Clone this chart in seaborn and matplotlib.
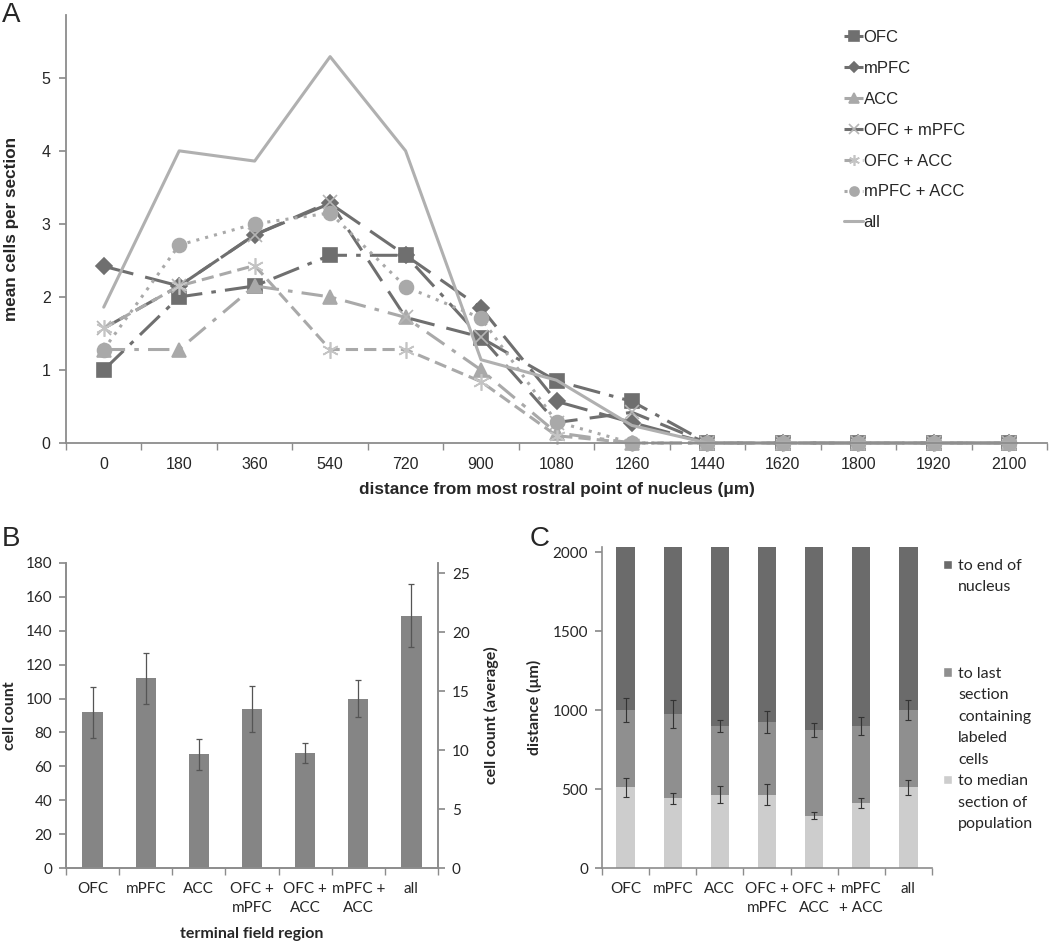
import numpy as np
import seaborn as sns
import matplotlib.pyplot as plt
from matplotlib.patches import Patch


sns.set_theme(style="ticks")
plt.rcParams["font.family"] = ["Liberation Sans", "DejaVu Sans"]

# -------------------------------
# Data - panel A
# -------------------------------
distance = ["0", "180", "360", "540", "720", "900", "1080", "1260",
            "1440", "1620", "1800", "1920", "2100"]

ofc = [1.0, 2.0, 2.15, 2.57, 2.57, 1.44, 0.85, 0.57, 0, 0, 0, 0, 0]
mpfc = [2.42, 2.15, 2.85, 3.28, 2.57, 1.85, 0.57, 0.28, 0, 0, 0, 0, 0]
acc = [1.28, 1.28, 2.15, 2.0, 1.72, 1.0, 0.14, 0, 0, 0, 0, 0, 0]
ofc_mpfc = [1.57, 2.15, 2.85, 3.3, 1.72, 1.45, 0.28, 0.42, 0, 0, 0, 0, 0]
ofc_acc = [1.57, 2.15, 2.43, 1.28, 1.28, 0.84, 0.1, 0, 0, 0, 0, 0, 0]
mpfc_acc = [1.28, 2.71, 3.0, 3.15, 2.14, 1.71, 0.29, 0, 0, 0, 0, 0, 0]
all_cells = [1.86, 4.0, 3.86, 5.29, 4.0, 1.14, 0.86, 0.24, 0, 0, 0, 0, 0]

# -------------------------------
# Data - panel B
# -------------------------------
regions = ["OFC", "mPFC", "ACC", "OFC +\nmPFC", "OFC +\nACC", "mPFC +\nACC", "all"]
regions_c = ["OFC", "mPFC", "ACC", "OFC +\nmPFC", "OFC +\nACC", "mPFC\n+ ACC", "all"]
cell_count = [92, 112, 67, 94, 68, 100, 149]
cell_err = [15, 15, 9, 13.5, 6, 11, 18.5]

# -------------------------------
# Data - panel C
# -------------------------------
end_of_nucleus = [2030, 2030, 2030, 2030, 2030, 2030, 2030]
last_section = [1000, 975, 900, 925, 875, 900, 1000]
last_err = [75, 90, 38, 72, 45, 55, 65]
median_section = [510, 440, 465, 465, 330, 410, 510]
median_err = [60, 35, 55, 68, 22, 32, 45]

dark = "#6f6f6f"
light = "#a9a9a9"
spine_col = "#8c8c8c"
calibri = ["Lato", "DejaVu Sans"]

fig = plt.figure(figsize=(10.5, 9.46), dpi=100)
W, H = 1050, 946


def box(l, t, r, b):
    return [l / W, 1 - b / H, (r - l) / W, (b - t) / H]


# -------------------------------
# Panel A - line plot
# -------------------------------
axA = fig.add_axes(box(66, 15, 1047, 443))
xpos = np.arange(len(distance))

lines = [
    ("OFC", ofc, dark, "s", 10, (0, (9, 3, 1.5, 3)), dark),
    ("mPFC", mpfc, dark, "D", 8, (0, (10, 4)), dark),
    ("ACC", acc, light, "^", 10, (0, (7, 3, 1.5, 3)), light),
    ("OFC + mPFC", ofc_mpfc, dark, "x", 10, (0, (8, 4)), "#b5b5b5"),
    ("OFC + ACC", ofc_acc, light, (6, 2, 0), 12, (0, (4, 2)), "#c4c4c4"),
    ("mPFC + ACC", mpfc_acc, light, "o", 10, (0, (1, 2)), light),
    ("all", all_cells, "#b0b0b0", None, 0, "-", "#b0b0b0"),
]

for name, vals, col, mk, ms, ls, mcol in lines:
    sns.lineplot(x=xpos, y=vals, ax=axA, color=col, linewidth=2.2,
                 linestyle=ls, marker=mk, markersize=ms,
                 markerfacecolor=mcol, markeredgecolor=mcol,
                 markeredgewidth=1.2, label=name, clip_on=False)

axA.set_xlim(-0.5, 12.5)
axA.set_ylim(0, 5.86)
axA.set_yticks(range(6))
axA.set_xticks(xpos)
axA.set_xticklabels(distance)
axA.set_xticks(np.arange(-0.5, 13), minor=True)
axA.tick_params(axis="x", which="major", length=0, labelsize=11.5, pad=10)
axA.tick_params(axis="x", which="minor", length=5, color=spine_col)
axA.tick_params(axis="y", length=5, color=spine_col, labelsize=11.5, pad=6)
axA.set_xlabel("distance from most rostral point of nucleus (\u03bcm)",
               fontsize=12.3, fontweight="bold", labelpad=7)
axA.set_ylabel("mean cells per section", fontsize=12.3, fontweight="bold", labelpad=16)
sns.despine(ax=axA)
for s in ["left", "bottom"]:
    axA.spines[s].set_color(spine_col)
    axA.spines[s].set_linewidth(1.3)

axA.legend(loc="upper left", bbox_to_anchor=(836 / W, 1 - 22 / H),
           bbox_transform=fig.transFigure, frameon=False, fontsize=12,
           handlelength=1.1, handletextpad=0.05, labelspacing=0.95,
           markerscale=0.65, borderpad=0)

# -------------------------------
# Panel B - bar plot
# -------------------------------
axB = fig.add_axes(box(66, 563, 438, 868))
sns.barplot(x=regions, y=cell_count, color="#858585", saturation=1,
            width=0.38, errorbar=None, linewidth=0, ax=axB)
axB.errorbar(np.arange(len(regions)), cell_count, yerr=cell_err, fmt="none",
             ecolor="#555555", elinewidth=0.9, capsize=2, capthick=0.9)
axB.set_xlim(-0.5, 6.5)
axB.set_ylim(0, 180)
axB.set_yticks(range(0, 181, 20))
axB.set_xticks(range(len(regions)))
axB.set_xticklabels(regions, family=calibri, linespacing=1.45)
axB.set_xticks(np.arange(-0.5, 7), minor=True)
axB.tick_params(axis="x", which="major", length=0, labelsize=11, pad=10)
axB.tick_params(axis="x", which="minor", length=5, color=spine_col)
axB.tick_params(axis="y", length=5, color=spine_col, labelsize=11, pad=5)
for lab in axB.get_yticklabels():
    lab.set_family(calibri)
axB.set_xlabel("terminal field region", fontsize=11.5, fontweight="bold",
               family=calibri, labelpad=9)
axB.set_ylabel("cell count", fontsize=11.5, fontweight="bold",
               family=calibri, labelpad=6)

axB2 = axB.twinx()
axB2.set_ylim(0, 25.85)
axB2.set_yticks(range(0, 26, 5))
axB2.tick_params(axis="y", length=5, color=spine_col, labelsize=11, pad=5)
for lab in axB2.get_yticklabels():
    lab.set_family(calibri)
axB2.set_ylabel("cell count (average)", fontsize=11.5, fontweight="bold",
                family=calibri, labelpad=10)
for ax in [axB, axB2]:
    ax.spines["top"].set_visible(False)
    for s in ["left", "bottom", "right"]:
        ax.spines[s].set_color(spine_col)
        ax.spines[s].set_linewidth(1.2)

# -------------------------------
# Panel C - stacked bars
# -------------------------------
axC = fig.add_axes(box(602, 547, 932, 868))
c_end, c_last, c_med = "#6b6b6b", "#8f8f8f", "#cdcdcd"
sns.barplot(x=regions_c, y=end_of_nucleus, color=c_end, saturation=1,
            width=0.39, errorbar=None, linewidth=0, ax=axC)
sns.barplot(x=regions_c, y=last_section, color=c_last, saturation=1,
            width=0.39, errorbar=None, linewidth=0, ax=axC)
sns.barplot(x=regions_c, y=median_section, color=c_med, saturation=1,
            width=0.39, errorbar=None, linewidth=0, ax=axC)
axC.errorbar(np.arange(7), last_section, yerr=last_err, fmt="none",
             ecolor="#333333", elinewidth=0.8, capsize=2, capthick=0.8)
axC.errorbar(np.arange(7), median_section, yerr=median_err, fmt="none",
             ecolor="#333333", elinewidth=0.8, capsize=2, capthick=0.8)
axC.set_xlim(-0.5, 6.5)
axC.set_ylim(0, 2032)
axC.set_yticks([0, 500, 1000, 1500, 2000])
axC.set_xticks(range(len(regions_c)))
axC.set_xticklabels(regions_c, family=calibri, linespacing=1.45)
axC.set_xticks(np.arange(-0.5, 7), minor=True)
axC.tick_params(axis="x", which="major", length=0, labelsize=11, pad=10)
axC.tick_params(axis="x", which="minor", length=5, color=spine_col)
axC.tick_params(axis="y", length=5, color=spine_col, labelsize=11, pad=5)
for lab in axC.get_yticklabels():
    lab.set_family(calibri)
axC.set_ylabel("distance (\u03bcm)", fontsize=11.5, fontweight="bold",
               family=calibri, labelpad=8)
sns.despine(ax=axC)
for s in ["left", "bottom"]:
    axC.spines[s].set_color(spine_col)
    axC.spines[s].set_linewidth(1.2)

# legend rows: swatch only on the first line of each entry
blank = Patch(facecolor="none", edgecolor="none")
leg_rows = [
    (Patch(facecolor=c_end), "to end of"), (blank, "nucleus"),
    (blank, ""), (blank, ""), (blank, ""),
    (Patch(facecolor=c_last), "to last"), (blank, "section"),
    (blank, "containing"), (blank, "labeled"), (blank, "cells"),
    (Patch(facecolor=c_med), "to median"), (blank, "section of"),
    (blank, "population"),
]
legC = axC.legend([r[0] for r in leg_rows], [r[1] for r in leg_rows],
                  loc="upper left", bbox_to_anchor=(935 / W, 1 - 551 / H),
                  bbox_transform=fig.transFigure, frameon=False,
                  prop={"family": calibri, "size": 11.5},
                  handlelength=0.55, handleheight=0.55, handletextpad=0.4,
                  labelspacing=0.47, borderpad=0)

# panel letters
fig.text(2 / W, 1 - 2 / H, "A", fontsize=20, va="top")
fig.text(2 / W, 1 - 526 / H, "B", fontsize=20, va="top")
fig.text(530 / W, 1 - 526 / H, "C", fontsize=20, va="top")

fig.savefig("out.png", dpi=100)
